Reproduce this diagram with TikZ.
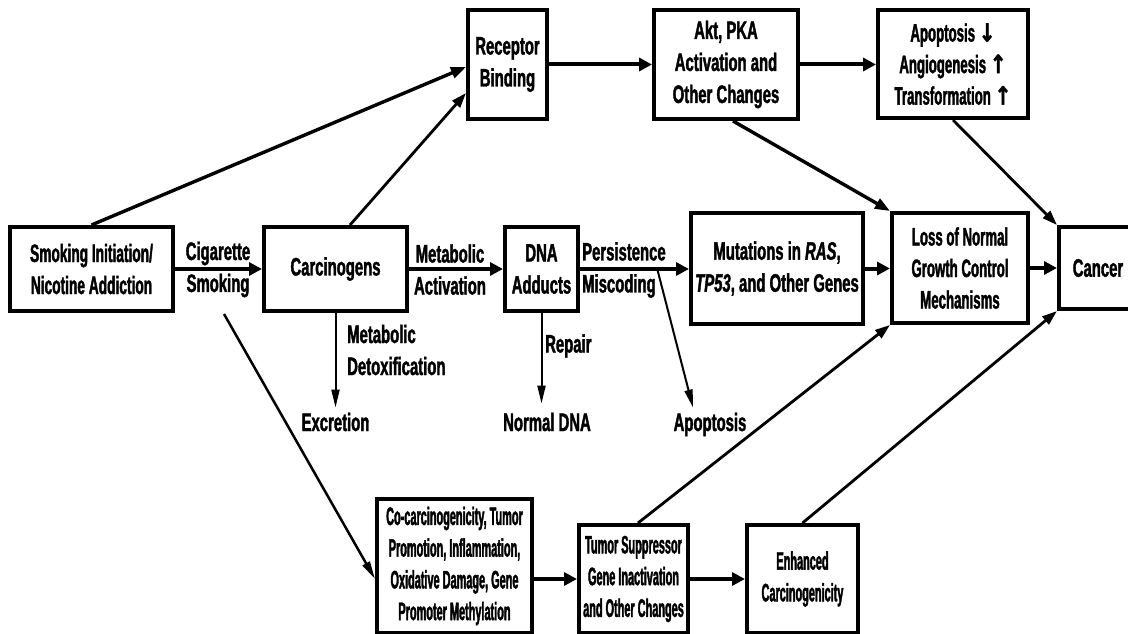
\documentclass[tikz,border=0pt]{standalone}
\usepackage{fontspec}
\usetikzlibrary{arrows.meta}
\newfontfamily\fA{Liberation Sans}[FakeStretch=0.59, FakeBold=1.5]
\newfontfamily\fS{Liberation Sans}[FakeStretch=0.545, FakeBold=1.5]
\newfontfamily\fB{Liberation Sans}[FakeStretch=0.525, FakeBold=1.5]
\newfontfamily\fC{Liberation Sans}[FakeStretch=0.433, FakeBold=1.5]
\newfontfamily\symf{DejaVu Sans}[FakeStretch=0.8, FakeBold=1.5]
\newcommand{\ua}[1]{{\symf\bfseries #1}}
\begin{document}
\begin{tikzpicture}[x=1pt,y=-1pt,
  box/.style={draw, line width=4pt, align=center, inner sep=0pt,
    font=\fontsize{25.2}{32}\fA\bfseries},
  boxS/.style={font=\fontsize{25.2}{32}\fS\bfseries},
  boxB/.style={font=\fontsize{25.2}{31.5}\fB\bfseries},
  boxC/.style={font=\fontsize{25.2}{31.7}\fC\bfseries},
  lbl/.style={inner sep=0pt, align=center, font=\fontsize{25.2}{32}\fA\bfseries},
  thk/.style={line width=4pt, -{Triangle[length=13pt,width=13pt]}},
  mid/.style={line width=3.4pt, -{Triangle[length=15pt,width=11pt]}},
  midt/.style={line width=2.8pt, -{Triangle[length=15pt,width=10pt]}},
  thn/.style={line width=2pt, -{Triangle[length=18pt,width=8pt]}}]
\clip (0,0) rectangle (1128,634);
\fill[white] (0,0) rectangle (1128,634);

% boxes
\node[box, boxS, minimum width=163pt, minimum height=84pt] (smk) at (91.5,269) {Smoking Initiation/\\Nicotine Addiction};
\node[box, minimum width=143pt, minimum height=84pt] (carc) at (335.5,269) {Carcinogens};
\node[box, minimum width=73pt, minimum height=84pt] (dna) at (541.5,269) {DNA\\Adducts};
\node[box, minimum width=172pt, minimum height=111pt] (mut) at (777,268.5) {Mutations in \textit{RAS},\\\textit{TP53}, and Other Genes};
\node[box, boxB, minimum width=136pt, minimum height=110pt] (loss) at (960,268) {Loss of Normal\\Growth Control\\Mechanisms};
\node[box, minimum width=78pt, minimum height=82pt] (cancer) at (1098,268) {Cancer};
\node[box, minimum width=79pt, minimum height=109pt] (rec) at (507.5,64.5) {Receptor\\Binding};
\node[box, minimum width=144pt, minimum height=109pt] (akt) at (726,64.5) {Akt, PKA\\Activation and\\Other Changes};
\node[box, boxB, minimum width=150pt, minimum height=108pt] (apo) at (953,64) {Apoptosis \ua{↓}\\Angiogenesis \ua{↑}\\Transformation \ua{↑}};
\node[box, boxC, minimum width=155pt, minimum height=134pt] (coc) at (454.5,566) {Co-carcinogenicity, Tumor\\Promotion, Inflammation,\\Oxidative Damage, Gene\\Promoter Methylation};
\node[box, boxC, minimum width=109pt, minimum height=108pt] (tsup) at (633.5,579) {Tumor Suppressor\\Gene Inactivation\\and Other Changes};
\node[box, boxC, minimum width=111pt, minimum height=108pt] (enh) at (802.5,579) {Enhanced\\Carcinogenicity};

% labels
\node[lbl] (cig) at (218,269.5) {Cigarette\\Smoking};
\node[lbl] (mact) at (450,269.5) {Metabolic\\Activation};
\node[lbl, align=left, anchor=west] (pers) at (582,270) {Persistence\\Miscoding};
\node[lbl, align=left, anchor=west] (detox) at (347,350) {Metabolic\\Detoxification};
\node[lbl, anchor=base, inner ysep=5pt] (excr) at (335.5,431) {Excretion};
\node[lbl, anchor=base, inner ysep=9pt] (ndna) at (547,431) {Normal DNA};
\node[lbl, anchor=base, inner ysep=5pt] (apol) at (710,431) {Apoptosis};
\node[lbl, anchor=west] (rep) at (545,346) {Repair};

% main horizontal arrows
\draw[thk] (smk.east) -- (carc.west);
\draw[thk] (carc.east) -- (dna.west);
\draw[thk] (dna.east) -- (dna.east -| mut.west);
\draw[thk] (mut.east) -- (mut.east -| loss.west);
\draw[thk] (loss.east) -- (cancer.west);
\draw[thk] (rec.east) -- (rec.east -| akt.west);
\draw[thk] (akt.east) -- (akt.east -| apo.west);
\draw[thk] (tsup.west -| coc.east) -- (tsup.west);
\draw[thk] (tsup.east) -- (tsup.east -| enh.west);

% diagonal arrows
\draw[mid] (smk.north) -- ([yshift=-2.5pt]rec.west);
\draw[midt] ([xshift=14.5pt]carc.north) -- ([yshift=-28.5pt]rec.west);
\draw[mid] ([xshift=7pt]akt.south) -- (loss.north west);
\draw[midt] (apo.south) -- (cancer.north west);
\draw[midt] ([xshift=4.5pt]tsup.north) -- (loss.south west);
\draw[midt] (enh.north) -- (cancer.south west);
\coordinate (cs) at (224,314);
\draw[thn, line width=2.5pt] (cs) -- ([yshift=-13pt]coc.west);

% thin side arrows
\draw[thn] (carc.south) -- (carc.south |- excr.north);
\draw[thn] (dna.south) -- (dna.south |- ndna.north);
\coordinate (br) at (657,268);
\draw[thn] (br) -- ([xshift=-17pt]apol.north);
\end{tikzpicture}
\end{document}
